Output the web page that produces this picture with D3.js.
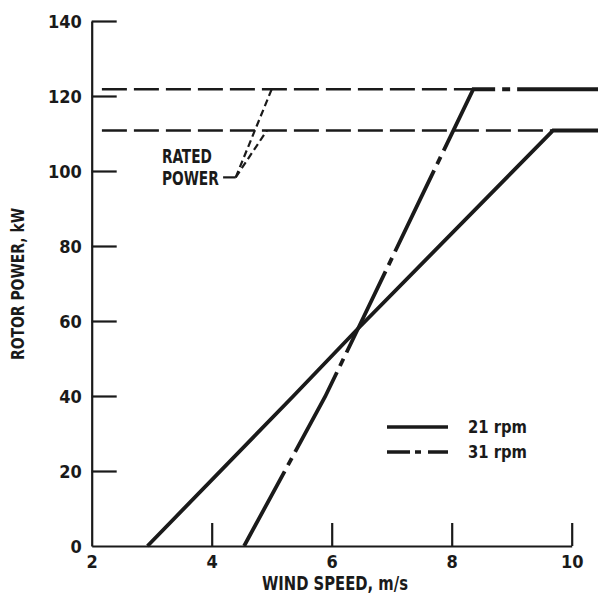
<!DOCTYPE html>
<html>
<head>
<meta charset="utf-8">
<script src="https://cdn.jsdelivr.net/npm/d3@7"></script>
<style>
  html, body { margin: 0; padding: 0; background: #fff; }
  svg { display: block; }
  text { font-family: "DejaVu Sans Condensed", "Liberation Sans Narrow", sans-serif; font-weight: bold; fill: #1a1a1a; }
</style>
</head>
<body>
<svg id="chart" width="598" height="600"></svg>
<script>
// Rotor power versus wind speed for two rotor speeds
const windTicks = [2, 4, 6, 8, 10];
const powerTicks = [0, 20, 40, 60, 80, 100, 120, 140];

// 21 rpm: cut-in, rise, rated point, then flat at rated power
const rpm21Wind  = [2.93, 5.35, 6.44, 9.69, 10.45];
const rpm21Power = [0, 39.8, 58.0, 110.8, 110.8];

// 31 rpm: cut-in, rise, rated point, then flat at rated power
const rpm31Wind  = [4.54, 5.89, 6.44, 7.47, 8.36, 10.45];
const rpm31Power = [0, 39.8, 58.0, 92.3, 121.8, 121.8];

// rated power levels (dashed reference lines)
const ratedLevels = [121.8, 110.8];
const ratedStart  = [2.17, 2.17];
const ratedEnd    = [8.36, 9.69];

// legend entries
const legendLabels = ["21 rpm", "31 rpm"];

const svg = d3.select("#chart");
const x = d3.scaleLinear().domain([2, 10]).range([91.7, 571.7]);
const y = d3.scaleLinear().domain([0, 140]).range([546, 21]);

const ink = "#1a1a1a";

// axes
const xAxis = d3.axisBottom(x).tickValues(windTicks).tickSize(-23).tickSizeOuter(0).tickPadding(9)
  .tickFormat(d3.format("d"));
const gx = svg.append("g").attr("transform", `translate(0,${y(0)})`).call(xAxis);
gx.selectAll(".tick").filter(d => d === 2).select("line").remove();

const yAxis = d3.axisLeft(y).tickValues(powerTicks).tickSize(-25).tickSizeOuter(0).tickPadding(10)
  .tickFormat(d3.format("d"));
const gy = svg.append("g").attr("transform", `translate(${x(2)},0)`).call(yAxis);
gy.selectAll(".tick").filter(d => d === 0).select("line").remove();

[gx, gy].forEach(g => {
  g.select(".domain").attr("stroke", ink).attr("stroke-width", 2.2);
  g.selectAll(".tick line").attr("stroke", ink).attr("stroke-width", 2.2);
  g.selectAll(".tick text").attr("font-size", 18).attr("fill", ink)
    .style("font-family", "'DejaVu Sans Condensed', 'Liberation Sans Narrow', sans-serif")
    .style("font-weight", "bold");
});
gy.selectAll(".tick text").attr("dy", "0.36em");

// axis titles (narrow lettering)
svg.append("text").attr("x", 262).attr("y", 590)
  .attr("font-size", 19).attr("textLength", 146).attr("lengthAdjust", "spacingAndGlyphs")
  .text("WIND SPEED,  m/s");
svg.append("text").attr("transform", "translate(24,360) rotate(-90)")
  .attr("font-size", 18).attr("textLength", 152).attr("lengthAdjust", "spacingAndGlyphs")
  .text("ROTOR POWER,  kW");

// rated power reference lines
svg.append("g").selectAll("line").data(ratedLevels).join("line")
  .attr("x1", (d, i) => x(ratedStart[i])).attr("x2", (d, i) => x(ratedEnd[i]))
  .attr("y1", d => y(d)).attr("y2", d => y(d))
  .attr("stroke", ink).attr("stroke-width", 2.4).attr("stroke-dasharray", "25,7");

// power curves
const line = d3.line().x(d => x(d[0])).y(d => y(d[1]));
const rpm21 = rpm21Wind.map((w, i) => [w, rpm21Power[i]]);
const rpm31 = rpm31Wind.map((w, i) => [w, rpm31Power[i]]);

svg.append("path").datum(rpm21).attr("d", line)
  .attr("fill", "none").attr("stroke", ink).attr("stroke-width", 3.8).attr("stroke-linejoin", "miter");
svg.append("path").datum(rpm31).attr("d", line)
  .attr("fill", "none").attr("stroke", ink).attr("stroke-width", 3.8)
  .attr("stroke-dasharray", "90,7,8,7").attr("stroke-dashoffset", 5)
  .attr("stroke-linejoin", "miter");

// "RATED POWER" callout with dotted leaders to both rated levels
const calloutX = 3.17;
svg.append("text").attr("x", x(calloutX)).attr("y", y(102.1))
  .attr("font-size", 19).attr("textLength", 50).attr("lengthAdjust", "spacingAndGlyphs").text("RATED");
svg.append("text").attr("x", x(calloutX)).attr("y", y(96.3))
  .attr("font-size", 19).attr("textLength", 57).attr("lengthAdjust", "spacingAndGlyphs").text("POWER");
const leaderStart = [4.4, 98.3];
svg.append("line")
  .attr("x1", x(4.19)).attr("x2", x(leaderStart[0]))
  .attr("y1", y(leaderStart[1])).attr("y2", y(leaderStart[1]))
  .attr("stroke", ink).attr("stroke-width", 2.2);
const leaderEnds = [[5.0, ratedLevels[0]], [4.92, ratedLevels[1]]];
svg.append("g").selectAll("line").data(leaderEnds).join("line")
  .attr("x1", x(leaderStart[0])).attr("y1", y(leaderStart[1]))
  .attr("x2", d => x(d[0])).attr("y2", d => y(d[1]))
  .attr("stroke", ink).attr("stroke-width", 2.2).attr("stroke-dasharray", "7,4");

// legend
const legend = svg.append("g").attr("transform", "translate(387,427)");
legendLabels.forEach((label, i) => {
  const row = legend.append("g").attr("transform", `translate(0,${i * 25})`);
  row.append("line").attr("x1", 0).attr("x2", 61).attr("y1", 0).attr("y2", 0)
    .attr("stroke", ink).attr("stroke-width", 3.6)
    .attr("stroke-dasharray", i === 0 ? null : "23,5,6,7,40");
  row.append("text").attr("x", 81).attr("y", 0).attr("dy", "0.36em")
    .attr("font-size", 18).attr("textLength", 59).attr("lengthAdjust", "spacingAndGlyphs").text(label);
});
</script>
</body>
</html>
